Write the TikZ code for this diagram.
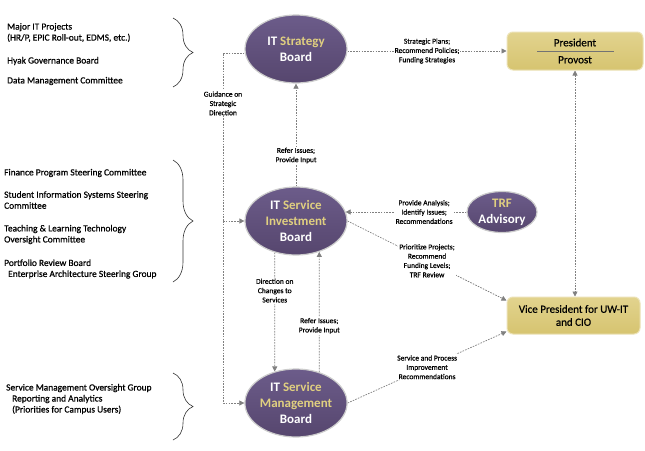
\documentclass[tikz,border=0pt]{standalone}
\usepackage{fontspec}
\setmainfont{Carlito}
\newfontfamily\heavyfont[FakeBold=0.6]{Carlito}
\usetikzlibrary{shapes.geometric,arrows.meta,decorations.pathreplacing,backgrounds}
\definecolor{purptop}{RGB}{108,92,138}
\definecolor{purpbot}{RGB}{86,70,110}
\definecolor{goldtxt}{RGB}{224,207,128}
\definecolor{boxfill}{RGB}{214,196,112}
\definecolor{boxtop}{RGB}{226,211,142}
\definecolor{boxedge}{RGB}{236,226,182}
\definecolor{conncol}{RGB}{128,128,128}
\begin{document}
\begin{tikzpicture}[x=1pt,y=-1pt,
  board/.style={ellipse, top color=purptop, bottom color=purpbot, draw=black!20, line width=1.2pt,
    minimum width=102pt, minimum height=68pt, inner sep=0pt, align=center, text=white,
    font=\fontsize{13}{16}\selectfont\bfseries},
  boss/.style={rounded corners=6pt, top color=boxtop, bottom color=boxfill, draw=boxedge, line width=1pt,
    minimum width=136pt, minimum height=38pt, align=center, font=\heavyfont\fontsize{11}{13}\selectfont},
  conn/.style={draw=conncol, line width=0.7pt, dash pattern=on 1.6pt off 1.2pt,
    -{Triangle[length=5pt,width=5pt]}},
  lbl/.style={fill=white, inner sep=1pt, align=center, font=\heavyfont\fontsize{7.5}{9.3}\selectfont},
  side/.style={anchor=west, align=left, inner sep=0pt, font=\heavyfont\fontsize{9.4}{11}\selectfont},
  brc/.style={decorate, decoration={brace, amplitude=20pt}, draw=black!80, line width=0.6pt}]
\useasboundingbox (0,0) rectangle (645,450);

% boards
\node[board] (strat) at (296,49) {IT \textcolor{goldtxt}{Strategy}\\Board};
\node[board] (inv) at (296,221) {IT \textcolor{goldtxt}{Service}\\\textcolor{goldtxt}{Investment}\\Board};
\node[board] (mgmt) at (296,403) {IT \textcolor{goldtxt}{Service}\\\textcolor{goldtxt}{Management}\\Board};
\node[board, minimum width=70pt, minimum height=41pt] (trf) at (502,212) {\textcolor{goldtxt}{TRF}\\Advisory};

% boxes
\node[boss] (pres) at (575,51) {President\\[4pt]Provost};
\draw[draw=black!55, line width=0.6pt] ([xshift=-38pt]pres.center) -- ([xshift=39pt]pres.center);
\node[boss, minimum width=133pt, minimum height=37pt] (vp) at (573.5,315.5) {Vice President for UW-IT\\and CIO};

% left texts
\node[side] (a1) at (7,32.5) {Major IT Projects\\(HR/P, EPIC Roll-out, EDMS, etc.)};
\node[side] (a2) at (7,61) {Hyak Governance Board};
\node[side] (a3) at (7,81) {Data Management Committee};
\node[side] (b1) at (4,173) {Finance Program Steering Committee};
\node[side] (b2) at (4,200) {Student Information Systems Steering\\Committee};
\node[side] (b3) at (4,234.5) {Teaching \& Learning Technology\\Oversight Committee};
\node[side] (b4) at (4,269) {Portfolio Review Board\\\hspace*{4pt}Enterprise Architecture Steering Group};
\node[side] (c1) at (6,399) {Service Management Oversight Group\\\hspace*{6pt}Reporting and Analytics\\\hspace*{6pt}(Priorities for Campus Users)};

% braces
\draw[brc] (173,18) -- (173,87);
\draw[brc] (173,160) -- (173,282);
\draw[brc] (173,373) -- (173,440);

\begin{scope}[on background layer]
\fill[white] (0,0) rectangle (645,450);
\draw[conn] (strat.east |- pres.west) -- node[lbl]{Strategic Plans;\\Recommend Policies;\\Funding Strategies} (pres.west);
\draw[conn, {Triangle[length=5pt,width=5pt]}-{Triangle[length=5pt,width=5pt]}] (pres.south) -- (pres.south |- vp.north);
\draw[conn] (inv.north) -- node[lbl,pos=0.3]{Refer Issues;\\Provide Input} (strat.south);
\coordinate (gx) at (223,53);
\draw[conn,-] (strat.west |- gx) -- (gx) -- node[lbl,pos=0.3]{Guidance on\\Strategic\\Direction} (gx |- inv.west);
\draw[conn] (gx |- inv.west) -- (inv.west);
\draw[conn] (gx |- inv.west) |- (mgmt.west);
\draw[conn] (trf.west) -- node[lbl,pos=0.35]{Provide Analysis;\\Identify Issues;\\Recommendations} ([xshift=-2pt]inv.east |- trf.west);
\draw[conn] (inv.east) -- node[lbl]{Prioritize Projects;\\Recommend\\Funding Levels;\\TRF Review} ([yshift=-4pt]vp.north west);
\draw[conn] (mgmt.east) -- node[lbl]{Service and Process\\Improvement\\Recommendations} ([yshift=3pt]vp.south west);
\draw[conn] (inv.236) -- node[lbl,pos=0.32]{Direction on\\Changes to\\Services} (mgmt.124);
\draw[conn] (mgmt.53) -- node[lbl,pos=0.385]{Refer Issues;\\Provide Input} (inv.307);
\end{scope}
\end{tikzpicture}
\end{document}
